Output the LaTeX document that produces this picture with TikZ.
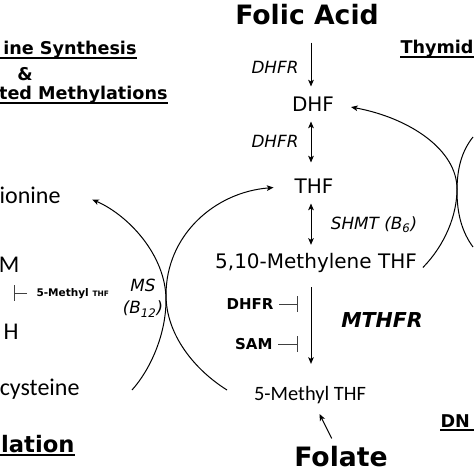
\documentclass[tikz,border=0pt]{standalone}
\usepackage{fontspec}
\setmainfont{DejaVu Sans}
\newfontfamily\calfont{Carlito}
\usetikzlibrary{arrows.meta,calc}

\tikzset{every picture/.style={line width=0.75pt}}
\tikzset{
  title/.style={font=\bfseries\fontsize{20}{24}\selectfont, inner sep=0pt},
  metab/.style={font=\fontsize{15}{18}\selectfont, inner sep=0pt},
  enz/.style={font=\itshape\fontsize{12.6}{17}\selectfont, inner sep=0pt},
  inhlab/.style={font=\bfseries\fontsize{11.25}{13}\selectfont, inner sep=0pt},
  sidemetab/.style={font=\calfont\fontsize{18}{22}\selectfont, inner sep=0pt},
  hdr/.style={font=\bfseries\fontsize{13.2}{16}\selectfont, inner sep=0pt},
  ul/.style={line width=1.4pt},
  arr/.style={-{Stealth[length=5pt,width=4.2pt,inset=1.2pt]}},
  darr/.style={{Stealth[length=5pt,width=4.2pt,inset=1.2pt]}-{Stealth[length=5pt,width=4.2pt,inset=1.2pt]}},
  inh/.style={-{Bar[width=11.5pt,line width=1.1pt]}, black!75},
}

\begin{document}
\begin{tikzpicture}[x=0.75pt,y=0.75pt,yscale=-1,xscale=1]
\useasboundingbox (0,0) rectangle (474,474);
\clip (0,0) rectangle (474,474);
\coordinate (leftedge) at (0,0);
\coordinate (rightedge) at (474,0);

% Text Node
\node[title] (folic) at (307,15) {Folic Acid};
% Text Node
\node[metab] (dhf) at (313,104) {DHF};
% Text Node
\node[metab] (thf) at (314,186) {THF};
% Text Node
\node[metab] (methylene) at (316,263) {5,10-Methylene THF};
% Text Node
\node[font=\calfont\fontsize{15.3}{18}\selectfont, inner sep=0pt] (fivemethyl) at (310,395) {5-Methyl THF};
% Text Node
\node[title] (folate) at (341,457) {Folate};
% Text Node
\node[enz] (dhfra) at (275,67) {DHFR};
% Text Node
\node[enz] (dhfrb) at (275,141) {DHFR};
% Text Node
\node[enz] (shmt) at (374,225) {SHMT (B\textsubscript{6})};
% Text Node
\node[enz, align=center] (ms) at (143,298) {MS\\(B\textsubscript{12})};
% Text Node
\node[font=\bfseries\itshape\fontsize{15.4}{18}\selectfont, inner sep=0pt] (mthfr) at (382,320) {MTHFR};
% Text Node
\node[inhlab, anchor=east] (dhfri) at (274,304) {DHFR};
% Text Node
\node[inhlab, anchor=east] (sami) at (273,344) {SAM};

% Text Node
\node[sidemetab, anchor=base east] (methionine) at (61,203) {ionine};
% Text Node
\node[sidemetab, anchor=base east] (sam) at (20,272) {M};
% Text Node
\node[sidemetab, anchor=base east] (sah) at (19,339) {H};
% Text Node
\node[sidemetab, anchor=base east] (homocys) at (80,395) {cysteine};
% Text Node
\node[font=\bfseries\fontsize{7.9}{9}\selectfont, inner sep=0pt, anchor=base west] (smt) at (36,296) {5-Methyl {\fontsize{5.6}{7}\selectfont THF}};

% Text Node
\node[hdr, anchor=base east] (hdrms) at (137,55) {ine Synthesis};
% Text Node
\node[hdr] (amp) at (25,74) {\&};
% Text Node
\node[hdr, anchor=base east] (hdram) at (168,100) {ted Methylations};
% Text Node
\node[hdr, anchor=base west] (hdrthy) at (400,54) {Thymid};
% Text Node
\node[hdr, anchor=base west] (hdrdna) at (440,427) {DN};
% Text Node
\node[hdr, font=\bfseries\fontsize{17}{20}\selectfont, anchor=base east] (hdrmeth) at (75,452) {lation};

%Underlines
\foreach \h in {hdrms,hdram,hdrmeth}
  \draw[ul] ($(\h.base east -| leftedge)+(0,3)$) -- ($(\h.base east)+(0,3)$);
\foreach \h in {hdrthy,hdrdna}
  \draw[ul] ($(\h.base west)+(0,3)$) -- ($(\h.base west -| rightedge)+(0,3)$);

%Straight Lines
\coordinate (axis) at (311,0);
\draw[arr, shorten <=12.6pt, shorten >=7.3pt] (folic.south -| axis) -- (dhf.north -| axis);
\draw[darr, shorten <=7.3pt, shorten >=11.8pt] (dhf.south -| axis) -- (thf.north -| axis);
\draw[darr, shorten <=7.3pt, shorten >=6pt] (thf.south -| axis) -- (methylene.north -| axis);
\draw[arr, shorten <=10.5pt, shorten >=16.4pt] (methylene.south -| axis) -- (fivemethyl.north -| axis);
\draw[arr, shorten <=6.5pt, shorten >=8.2pt] (folate) -- (fivemethyl);

%Inhibitions
\draw[inh, shorten <=3.75pt] (dhfri.east) -- ++(24,0);
\draw[inh, shorten <=3.75pt] (sami.east) -- ++(25,0);
\draw[inh, shorten <=6.75pt] (smt.west) -- ++(-22,0);

%Curve Lines
\coordinate (msa) at (132,390);
\coordinate (msb) at (227,390);
\draw[arr, shorten >=25.5pt] (msa) .. controls (150,370) and (166,335) .. (166,300) .. controls (166,255) and (128,215) .. (methionine.north east);
\draw[arr, shorten >=15.5pt] (msb) .. controls (195,370) and (166,335) .. (166,295) .. controls (166,235) and (215,192) .. (thf.west);
%Curve Lines
\draw[arr, shorten <=6pt, shorten >=12.6pt] (methylene.south east) .. controls (445,245) and (457,215) .. (457,189) .. controls (457,150) and (410,118) .. (dhf.east);
\coordinate (tsa) at (473,137);
\coordinate (tsb) at (473,247);
\draw (tsa) .. controls (461,152) and (457,170) .. (457,191) .. controls (457,214) and (462,232) .. (tsb);

\end{tikzpicture}
\end{document}
